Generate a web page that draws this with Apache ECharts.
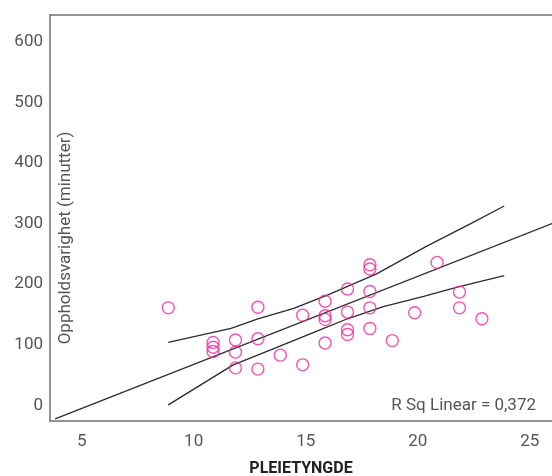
<!DOCTYPE html>
<html>
<head>
<meta charset="utf-8">
<script src="https://cdn.jsdelivr.net/npm/echarts@6/dist/echarts.min.js"></script>
<style>
  html, body { margin: 0; padding: 0; background: #fff; }
  #chart { width: 552px; height: 476px; }
</style>
</head>
<body>
<div id="chart"></div>
<script>
// pleietyngde (x) og oppholdsvarighet i minutter (y), lest av figuren
const pleietyngde = [9, 13, 11, 11, 11, 12, 12, 12, 13, 13, 14, 15, 15, 16, 16, 16,
  16, 17, 17, 17, 17, 18, 18, 18, 18, 18, 19, 21, 22, 22, 20, 23]
const minutter = [161, 162, 104, 96, 89, 108, 88, 62, 110, 60, 83, 67, 149, 172, 148, 142,
  103, 192, 154, 125, 117, 232, 225, 188, 161, 127, 107, 236, 187, 161, 153, 143]

// lineær tilpasning (endepunkter lest av figuren)
const fitLine = [[3.95, -22], [26.13, 300]]

// konfidensbånd for gjennomsnitt
const upperBand = [[9, 104], [11.8, 127], [13, 143], [14.6, 160], [16.1, 182], [18.3, 217],
  [20.5, 262], [22.5, 300], [24, 329]]
const lowerBand = [[9, 1], [11.9, 67], [13.6, 92], [15.8, 125], [17, 143], [18.6, 163],
  [20.4, 180], [21.9, 195], [24, 214]]

const yName = 'Oppholdsvarighet (minutter)'
const rSqText = 'R Sq Linear = 0,372'

const chart = echarts.init(document.getElementById('chart'))

const axisFont = { fontFamily: 'Roboto', fontSize: 17, color: '#555' }
const lineStyle = { color: '#2b2b2b', width: 1.3 }
const frameLine = { show: true, onZero: false, lineStyle: { color: '#707070', width: 1.5 } }

chart.setOption({
  animation: false,
  grid: { left: 50, top: 15, right: 0, bottom: 55, outerBoundsMode: 'none', containLabel: false },
  xAxis: [{
    type: 'value',
    min: 3.72,
    max: 26.13,
    splitNumber: 4,
    name: 'PLEIETYNGDE',
    nameLocation: 'middle',
    nameGap: 40,
    nameTextStyle: { fontFamily: 'Roboto', fontSize: 16, fontWeight: 'bold', color: '#222' },
    axisLine: frameLine,
    axisTick: { show: false },
    splitLine: { show: false },
    axisLabel: Object.assign({ margin: 12, showMinLabel: false, showMaxLabel: false, padding: [0, 0, 0, 6] }, axisFont)
  }, {
    type: 'value',
    position: 'top',
    min: 3.72,
    max: 26.13,
    axisLine: frameLine,
    axisTick: { show: false },
    axisLabel: { show: false },
    splitLine: { show: false }
  }],
  yAxis: {
    type: 'value',
    min: -25.6,
    max: 644,
    splitNumber: 7,
    axisLine: frameLine,
    axisTick: { show: false },
    splitLine: { show: false },
    axisLabel: Object.assign({ margin: 7, showMinLabel: false, showMaxLabel: false }, axisFont)
  },
  graphic: [{
    type: 'text',
    x: 66,
    y: 238,
    rotation: Math.PI / 2,
    style: { text: yName, fontFamily: 'Roboto', fontSize: 17, fill: '#555', align: 'center', verticalAlign: 'middle' }
  }, {
    type: 'text',
    right: 16,
    top: 397,
    style: { text: rSqText, fontFamily: 'Roboto', fontSize: 17, fill: '#555' }
  }],
  series: [
    {
      type: 'line',
      data: fitLine,
      symbol: 'none',
      lineStyle
    },
    {
      type: 'line',
      data: upperBand,
      symbol: 'none',
      lineStyle
    },
    {
      type: 'line',
      data: lowerBand,
      symbol: 'none',
      lineStyle
    },
    {
      type: 'scatter',
      data: pleietyngde.map((x, i) => [x, minutter[i]]),
      symbol: 'circle',
      symbolSize: 12,
      itemStyle: { color: 'rgba(0,0,0,0)', borderColor: '#ec2a9c', borderWidth: 1.4 },
      z: 5
    }
  ]
})
</script>
</body>
</html>
